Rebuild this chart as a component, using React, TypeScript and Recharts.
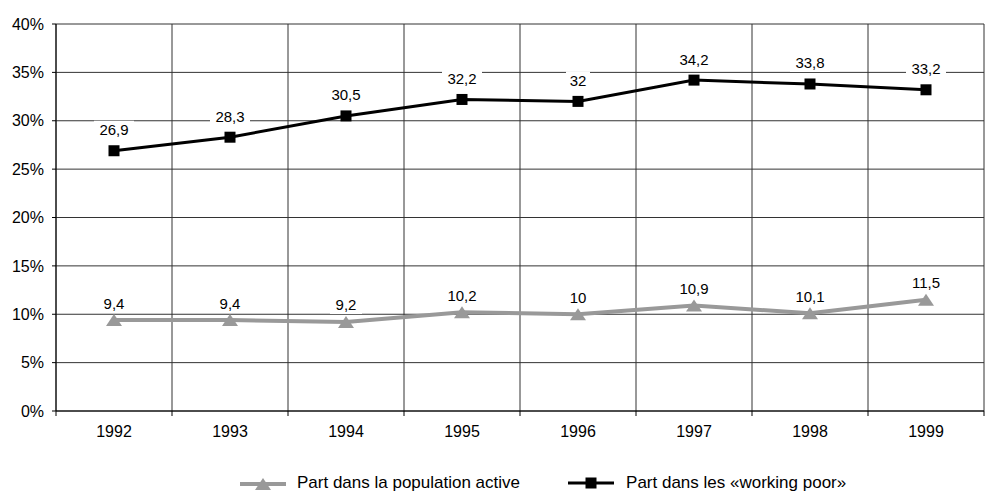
import React from 'react';
import {
  LineChart,
  Line,
  XAxis,
  YAxis,
  CartesianGrid,
  Legend,
  LabelList,
} from 'recharts';

if (typeof document !== 'undefined') {
  document.body.style.margin = '0';
}

const years = ['1992', '1993', '1994', '1995', '1996', '1997', '1998', '1999'];
const populationActive = [9.4, 9.4, 9.2, 10.2, 10, 10.9, 10.1, 11.5];
const workingPoor = [26.9, 28.3, 30.5, 32.2, 32, 34.2, 33.8, 33.2];
const yTicks = [0, 5, 10, 15, 20, 25, 30, 35, 40];

const seriesNames = {
  active: 'Part dans la population active',
  poor: 'Part dans les «working poor»',
};

const GRAY = '#999999';
const FONT = '"Liberation Sans", Arial, sans-serif';

const data = years.map((year, i) => ({
  year,
  active: populationActive[i],
  poor: workingPoor[i],
}));

const fmt = (v: number) => String(v).replace('.', ',');

// vertical grid lines sit between the categories, not on them
const bandEdges = ({ offset }: any) => {
  const step = offset.width / years.length;
  return [...years.map((_, i) => offset.left + i * step), offset.left + offset.width];
};

const TICK_SIZE = 5;
const TICK_MARGIN = 10;

const YearTick = (props: any) => {
  const { x, y, payload, index } = props;
  const half = payload?.offset ?? 0;
  const axisY = y - TICK_SIZE - TICK_MARGIN;
  return (
    <g>
      <line x1={x - half} x2={x - half} y1={axisY} y2={axisY + TICK_SIZE} stroke="#000" />
      {index === years.length - 1 && (
        <line x1={x + half} x2={x + half} y1={axisY} y2={axisY + TICK_SIZE} stroke="#000" />
      )}
      <text x={x} y={y} dy="0.71em" textAnchor="middle" fill="#000" fontSize={16} fontFamily={FONT}>
        {payload.value}
      </text>
    </g>
  );
};

const SquareDot = (props: any) => {
  const { cx, cy, index } = props;
  if (cx == null || cy == null) return <g key={index} />;
  return <rect key={index} x={cx - 5.5} y={cy - 5.5} width={11} height={11} fill="#000" />;
};

const TriangleDot = (props: any) => {
  const { cx, cy, index } = props;
  if (cx == null || cy == null) return <g key={index} />;
  return (
    <polygon
      key={index}
      points={`${cx},${cy - 6} ${cx - 8},${cy + 6} ${cx + 8},${cy + 6}`}
      fill={GRAY}
    />
  );
};

const makeLabel = (lift: number) => (props: any) => {
  const { x, y, value } = props;
  const text = fmt(value);
  const w = text.length * 8 + 8;
  const cy = y - lift;
  return (
    <g>
      <rect x={x - w / 2} y={cy - 9} width={w} height={18} fill="#fff" />
      <text
        x={x}
        y={cy}
        textAnchor="middle"
        dominantBaseline="central"
        fontSize={15}
        fontFamily={FONT}
        fill="#000"
      >
        {text}
      </text>
    </g>
  );
};

const LegendContent = () => (
  <div
    style={{
      display: 'flex',
      alignItems: 'center',
      height: 20,
      paddingLeft: 240,
      fontFamily: FONT,
      fontSize: 17,
      color: '#000',
      whiteSpace: 'nowrap',
    }}
  >
    <svg width={46} height={14} style={{ marginRight: 11 }}>
      <line x1={0} y1={8} x2={46} y2={8} stroke={GRAY} strokeWidth={4} />
      <polygon points="23,2 15,14 31,14" fill={GRAY} />
    </svg>
    <span>{seriesNames.active}</span>
    <svg width={46} height={14} style={{ marginLeft: 48, marginRight: 12 }}>
      <line x1={0} y1={7} x2={46} y2={7} stroke="#000" strokeWidth={3} />
      <rect x={17.5} y={1.5} width={11} height={11} fill="#000" />
    </svg>
    <span>{seriesNames.poor}</span>
  </div>
);

const App = () => {
  return (
    <LineChart
      width={985}
      height={503}
      data={data}
      margin={{ top: 24, right: 1, bottom: 10, left: 0 }}
      style={{ fontFamily: FONT }}
    >
      <CartesianGrid stroke="#333" strokeWidth={1} verticalCoordinatesGenerator={bandEdges} />
      <XAxis
        dataKey="year"
        type="category"
        scale="band"
        height={62}
        tickSize={TICK_SIZE}
        tickMargin={TICK_MARGIN}
        tickLine={false}
        axisLine={{ stroke: '#000' }}
        interval={0}
        tick={<YearTick />}
      />
      <YAxis
        domain={[0, 40]}
        ticks={yTicks}
        width={56}
        tickSize={4}
        tickMargin={8}
        tickFormatter={(v: number) => `${v}%`}
        axisLine={{ stroke: '#000' }}
        tickLine={{ stroke: '#000' }}
        tick={{ fill: '#000', fontSize: 16 }}
      />
      <Legend verticalAlign="bottom" content={<LegendContent />} />
      <Line
        type="linear"
        dataKey="active"
        name={seriesNames.active}
        stroke={GRAY}
        strokeWidth={4}
        dot={<TriangleDot />}
        activeDot={false}
        isAnimationActive={false}
      >
        <LabelList dataKey="active" content={makeLabel(17)} />
      </Line>
      <Line
        type="linear"
        dataKey="poor"
        name={seriesNames.poor}
        stroke="#000"
        strokeWidth={3}
        dot={<SquareDot />}
        activeDot={false}
        isAnimationActive={false}
      >
        <LabelList dataKey="poor" content={makeLabel(21)} />
      </Line>
    </LineChart>
  );
};

export default App;
